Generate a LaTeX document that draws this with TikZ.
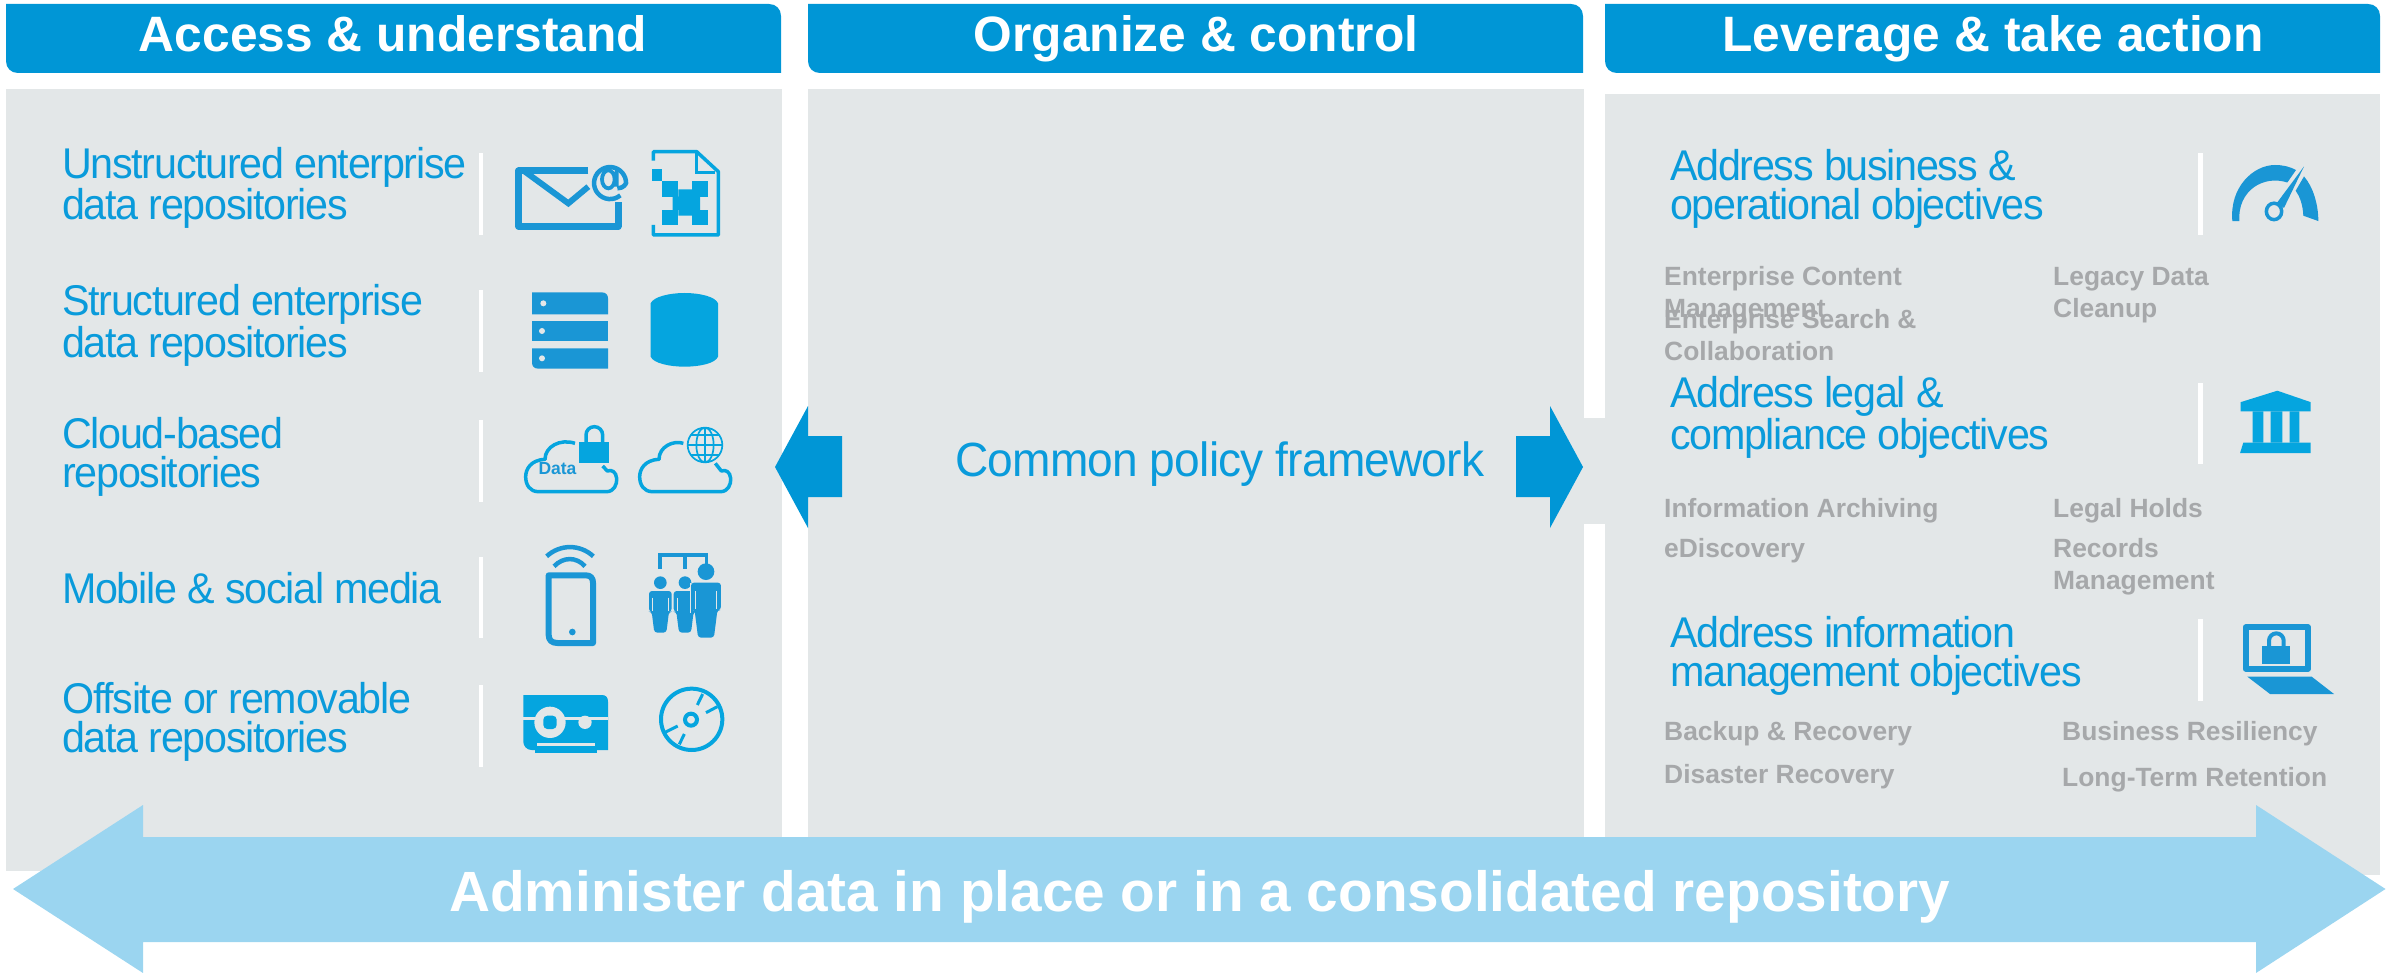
\documentclass[tikz,border=0pt]{standalone}
\usepackage{fontspec}
\setmainfont{Liberation Sans}
\newfontfamily\tightfont[FakeStretch=0.96,LetterSpace=-3]{Liberation Sans}
\newfontfamily\tightmid[FakeStretch=0.96,LetterSpace=-1.7]{Liberation Sans}
\definecolor{hdr}{HTML}{0096D6}
\definecolor{panel}{HTML}{E3E7E8}
\definecolor{lightarrow}{HTML}{9BD5F0}
\definecolor{lbl}{HTML}{0A9BDB}
\definecolor{icona}{HTML}{1A96D5}
\definecolor{iconb}{HTML}{05A5DF}
\definecolor{graytxt}{HTML}{A6A8AA}
\tikzset{
  zoomed/.style 2 args={shift={(#1,#2)},x=0.33333pt,y=-0.33333pt},
  zoomedtall/.style 2 args={shift={(#1,#2)},x=0.33333pt,y=-0.35714pt},
  headtxt/.style={anchor=base,inner sep=0pt,text=white,font=\fontsize{49.7}{50}\selectfont\bfseries},
  bluetxt/.style={anchor=base west,inner sep=0pt,text=lbl,align=left,font=\fontsize{43}{39}\selectfont\tightfont},
  graylbl/.style={anchor=base west,inner sep=0pt,text=graytxt,font=\fontsize{26.4}{32}\selectfont\bfseries},
  sep/.style={fill=white,draw=none},
  panelbox/.style={fill=panel,draw=none},
  person/.pic={
    \fill[icona] (0,-25) circle (19);
    \fill[icona,rounded corners=3] (-34,0) -- (34,0) -- (34,62) -- (26,62) -- (18,125) -- (-18,125) -- (-26,62) -- (-34,62) -- cycle;
    \draw[panel,line width=0.6pt] (-24,20) -- (-24,60) (24,20) -- (24,60);
  }
}
\begin{document}
\begin{tikzpicture}[x=1pt,y=-1pt]
\useasboundingbox (0,0) rectangle (2397,973);
% panels
\fill[panelbox] (6,89) rectangle (782,871);
\fill[panelbox] (808,89) rectangle (1584,840);
\fill[panelbox] (1605,94) rectangle (2380,875);
\fill[panelbox] (1584,418) rectangle (1605,524);
% headers
\foreach \a/\b in {6/781,808/1583,1605/2380}{
  \fill[hdr] (\a,4) -- (\b-12,4) .. controls (\b-5,4) and (\b,9) .. (\b,16) -- (\b,73) -- (\a+12,73) .. controls (\a+5,73) and (\a,68) .. (\a,61) -- cycle;
}
\node[headtxt] (h1) at (393,52) {Access \& understand};
\node[headtxt] (h2) at (1196,52) {Organize \& control};
\node[headtxt] (h3) at (1993,52) {Leverage \& take action};
% separators
\foreach \a/\b in {153/235,290/372,420/502,557/638,685/767}{\fill[sep] (479,\a) rectangle (483,\b);}
\foreach \a/\b in {153/235,383/464,619/701}{\fill[sep] (2198,\a) rectangle (2203,\b);}
% left labels
\node[bluetxt] (l1) at (62,220) {Unstructured enterprise\\data repositories};
\node[bluetxt] (l2) at (62,357) {Structured enterprise\\data repositories};
\node[bluetxt] (l3) at (62,487) {Cloud-based\\repositories};
\node[bluetxt] (l4) at (62,603) {Mobile \& social media};
\node[bluetxt] (l5) at (62,752) {Offsite or removable\\data repositories};
% right labels
\node[bluetxt] (r1) at (1670,220) {Address business \&\\operational objectives};
\node[bluetxt] (r2) at (1670,449) {Address legal \&\\compliance objectives};
\node[bluetxt] (r3) at (1670,686) {Address information\\management objectives};
% gray labels
\node[graylbl] (g1) at (1664,286) {Enterprise Content};
\node[graylbl] (g2) at (1664,318) {Management};
\node[graylbl] (g3) at (1664,328) {Enterprise Search \&};
\node[graylbl] (g4) at (1664,360) {Collaboration};
\node[graylbl] (g5) at (2053,286) {Legacy Data};
\node[graylbl] (g6) at (2053,318) {Cleanup};
\node[graylbl] (g7) at (1664,517) {Information Archiving};
\node[graylbl] (g8) at (1664,557) {eDiscovery};
\node[graylbl] (g9) at (2053,517) {Legal Holds};
\node[graylbl] (g10) at (2053,557) {Records};
\node[graylbl] (g11) at (2053,589) {Management};
\node[graylbl] (g12) at (1664,740) {Backup \& Recovery};
\node[graylbl] (g13) at (1664,783) {Disaster Recovery};
\node[graylbl] (g14) at (2062,740) {Business Resiliency};
\node[graylbl] (g15) at (2062,786) {Long-Term Retention};
% centre arrows and text
\fill[hdr] (775,467) -- (808,406) -- (808,436) -- (842,436) -- (842,497) -- (808,497) -- (808,528) -- cycle;
\fill[hdr] (1583,467) -- (1550,406) -- (1550,436) -- (1516,436) -- (1516,497) -- (1550,497) -- (1550,528) -- cycle;
\node[anchor=base west,inner sep=0pt,text=lbl,font=\fontsize{48}{48}\selectfont\tightmid] (cpf) at (955,476) {Common policy framework};
% big arrow
\fill[lightarrow] (13,889) -- (143,805) -- (143,837) -- (2256,837) -- (2256,805) -- (2385.5,889) -- (2256,973) -- (2256,942) -- (143,942) -- (143,973) -- cycle;
\node[anchor=base west,inner sep=0pt,text=white,font=\fontsize{56.75}{57}\selectfont\bfseries] (adm) at (449,911) {Administer data in place or in a consolidated repository};
% ---- icons row 1-2
\begin{scope}[zoomed={480}{120}]
  \draw[icona,line width=7pt,line join=round] (325,153) -- (116,153) -- (116,319) -- (414,319) -- (414,245);
  \draw[icona,line width=6pt] (135,155) -- (265,250) -- (325,200);
  % at sign
  \draw[icona,line width=4.5pt] (421,226) arc[start angle=50,end angle=360,radius=48] .. controls (438,190) and (432,205) .. (412,205);
  \draw[icona,line width=3.8pt] (385,178) ellipse (19 and 27) (410,150) -- (410,200);
  % file
  \draw[iconb,line width=3.5pt,line join=round] (520,122) -- (520,95) -- (650,95) -- (715,155) -- (715,345) -- (520,345) -- (520,315);
  \draw[iconb,line width=3pt] (650,100) -- (650,158) -- (705,158);
  \fill[iconb] (515,148) rectangle (547,183);
  \fill[iconb] (547,183) rectangle (595,230);
  \fill[iconb] (637,183) rectangle (683,230);
  \fill[iconb] (547,270) rectangle (595,315);
  \fill[iconb] (637,270) rectangle (683,315);
  \fill[iconb] (595,208) -- (637,208) -- (637,230) -- (660,230) -- (660,270) -- (637,270) -- (637,287) -- (595,287) -- (595,270) -- (578,270) -- (578,230) -- (595,230) -- cycle;
  % server
  \fill[icona] (156,517) -- (365,517) .. controls (378,517) and (384,525) .. (384,535) -- (384,583) -- (156,583) -- cycle;
  \fill[icona] (156,603) rectangle (384,664);
  \fill[icona] (156,685) -- (384,685) -- (384,746) -- (175,746) .. controls (162,746) and (156,738) .. (156,728) -- cycle;
  \fill[panel] (190,550) circle (9) (186,633) circle (9) (186,715) circle (9);
  % database
  \fill[iconb] (512,550) .. controls (520,530) and (570,519) .. (613,519) .. controls (660,519) and (706,530) .. (714,550) -- (714,710) .. controls (706,730) and (660,740) .. (613,740) .. controls (570,740) and (520,730) .. (512,710) -- cycle;
\end{scope}
% ---- icons row 3-5
\begin{scope}[zoomed={480}{390}]
  % cloud with lock
  \draw[iconb,line width=3.5pt,line join=round] (285,160) .. controls (240,145) and (195,170) .. (195,208) .. controls (150,210) and (137,240) .. (137,260) .. controls (137,285) and (150,305) .. (175,305) -- (380,305) .. controls (402,305) and (412,282) .. (410,265) .. controls (408,245) and (395,238) .. (382,243) -- (368,228);
  \fill[iconb] (297,157) rectangle (388,218);
  \draw[iconb,line width=3.5pt] (318,157) -- (318,135) arc[start angle=180,end angle=360,radius=25] -- (368,157);
  \node[anchor=base west,inner sep=0pt,text=icona,font=\fontsize{17.5}{18}\selectfont\bfseries] (data) at (175,252) {Data};
  % cloud with globe
  \draw[iconb,line width=3.5pt,line join=round] (610,160) .. controls (580,150) and (537,170) .. (537,208) .. controls (492,210) and (479,240) .. (479,260) .. controls (479,285) and (492,305) .. (517,305) -- (722,305) .. controls (744,305) and (754,282) .. (752,265) .. controls (750,245) and (737,238) .. (724,243) -- (706,220);
  \draw[iconb,line width=1.7pt] (675,165) circle (52) (675,165) ellipse (26 and 52) (675,113) -- (675,217) (623,165) -- (727,165) (632,135) -- (718,135) (632,195) -- (718,195);
  % phone
  \draw[icona,line width=6pt,line join=round] (206,556) -- (318,556) .. controls (332,556) and (339,565) .. (339,578) -- (339,759) -- (232,759) .. controls (215,759) and (206,750) .. (206,735) -- cycle;
  \fill[icona] (277,726) circle (10);
  \draw[icona,line width=4.5pt] (200,499) .. controls (240,462) and (300,462) .. (340,499);
  \draw[icona,line width=4.5pt] (222,529) .. controls (250,500) and (290,500) .. (315,529);
  % people
  \draw[icona,line width=3.5pt] (540,537) -- (540,495) -- (680,495) -- (680,525) (615,495) -- (615,537);
  \path (541,603) pic {person};
  \path (615,603) pic {person};
  \fill[panel] (629,578) rectangle (634,668);
  \path (678,578) pic[scale=1.32] {person};
  % tape
  \fill[iconb] (130,915) -- (365,915) .. controls (378,915) and (384,922) .. (384,935) -- (384,1080) -- (155,1080) .. controls (140,1080) and (130,1068) .. (130,1055) -- cycle;
  \fill[panel] (130,980) rectangle (384,990);
  \fill[panel] (210,997) circle (47) (315,997) circle (20);
  \fill[iconb,rounded corners=4] (190,977) rectangle (230,1017);
  \fill[panel] (172,1060) rectangle (345,1068);
  \fill[iconb] (165,1068) rectangle (350,1088);
  % disc
  \draw[iconb,line width=4pt] (635,988) circle (92) (633,989) circle (18);
  \draw[iconb,line width=3pt] (652,945) -- (668,912) (678,968) -- (712,950) (593,1008) -- (555,1027) (613,1032) -- (598,1063);
\end{scope}
% gauge and bank
\begin{scope}[zoomedtall={2180}{130}]
  \fill[icona] (157,255) .. controls (148,160) and (220,98) .. (285,98) .. controls (310,98) and (330,103) .. (348,112) -- (322,147) .. controls (250,125) and (172,170) .. (178,255) -- cycle;
  \fill[icona] (372,130) .. controls (400,160) and (415,210) .. (415,255) -- (370,240) .. controls (368,205) and (358,185) .. (347,170) -- cycle;
  \fill[icona] (372,102) -- (312,218) -- (290,205) -- cycle;
  \draw[icona,fill=panel,line width=3.5pt] (282,228) circle (23);
  \fill[iconb] (182,788) -- (182,762) -- (292,730) -- (392,762) -- (392,788) -- cycle;
  \fill[iconb] (218,788) rectangle (250,875) (272,788) rectangle (307,875) (329,788) rectangle (358,875);
  \fill[iconb] (190,875) -- (392,875) -- (392,905) -- (180,905) -- cycle;
\end{scope}
% laptop
\begin{scope}[zoomed={2190}{600}]
  \draw[icona,line width=6pt,line join=round] (167,82) rectangle (354,206);
  \fill[icona] (217,138) rectangle (300,192);
  \draw[icona,line width=4pt] (237,138) -- (237,122) arc[start angle=180,end angle=360,radius=22] -- (281,138);
  \fill[icona] (172,230) -- (365,230) -- (432,282) -- (240,282) -- cycle;
\end{scope}
\end{tikzpicture}
\end{document}
